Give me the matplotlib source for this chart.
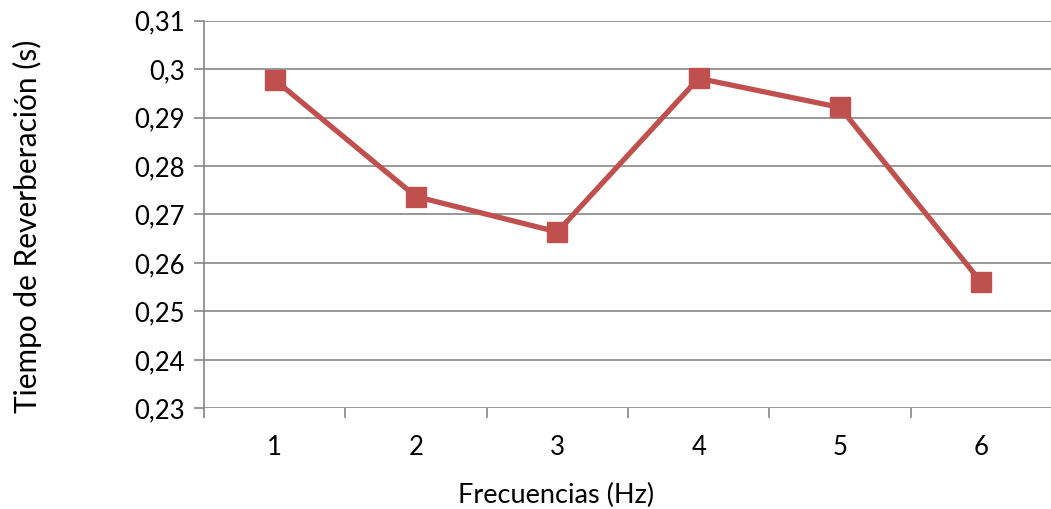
import matplotlib
matplotlib.use("Agg")
import matplotlib.pyplot as plt
from matplotlib.ticker import FixedLocator

categories = [1, 2, 3, 4, 5, 6]
values = [0.2978, 0.2737, 0.2664, 0.2981, 0.2921, 0.2560]
yticks = [0.23, 0.24, 0.25, 0.26, 0.27, 0.28, 0.29, 0.30, 0.31]
ytick_labels = ["0,23", "0,24", "0,25", "0,26", "0,27", "0,28", "0,29", "0,3", "0,31"]

plt.rcParams['font.family'] = ['Lato', 'DejaVu Sans']
W, H = 1051, 509
fig = plt.figure(figsize=(W/100, H/100), dpi=100)
ax = fig.add_axes([204/W, 1-408.3/H, (1052-204)/W, (408.3-20.7)/H])

grid_c = "#868686"
ax.set_xlim(0.5, 6.5)
ax.set_ylim(0.23, 0.31)
ax.set_yticks(yticks)
ax.set_yticklabels(ytick_labels)
for y in yticks:
    ax.axhline(y, color=grid_c, lw=1.2, zorder=1)

ax.plot(categories, values, color="#C0504D", lw=3.8, marker="s", markersize=14,
        markerfacecolor="#C0504D", markeredgecolor="#C0504D", zorder=3, clip_on=False)

ax.set_xticks(categories)
ax.set_xticklabels([str(c) for c in categories])
ax.xaxis.set_minor_locator(FixedLocator([0.5 + i for i in range(7)]))
ax.tick_params(axis='x', which='major', length=0, pad=19, labelsize=18.5)
ax.tick_params(axis='x', which='minor', length=7, color=grid_c, width=1.2)
ax.tick_params(axis='y', length=7, color=grid_c, width=1.2, labelsize=18.5, pad=7)

for s in ["top", "right", "bottom"]:
    ax.spines[s].set_visible(False)
ax.spines["left"].set_color(grid_c)
ax.spines["left"].set_linewidth(1.2)

fig.text(556/W, 1-503/H, "Frecuencias (Hz)", fontsize=19.5, ha="center", va="baseline")
fig.text(27/W, 1-226/H, "Tiempo de Reverberación (s)", fontsize=21.5,
         rotation=90, ha="center", va="center")

fig.savefig("out.png", dpi=100)
